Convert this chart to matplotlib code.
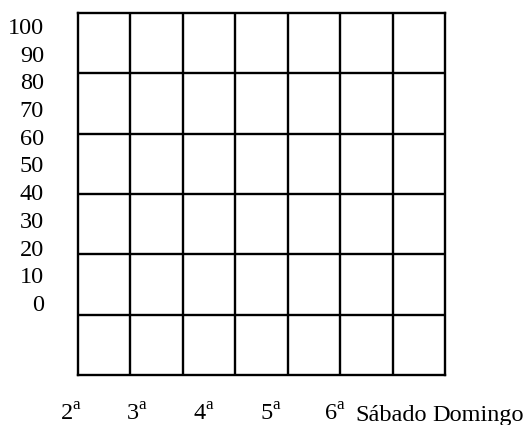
import matplotlib
matplotlib.use("Agg")
import matplotlib.pyplot as plt

y_labels = [100, 90, 80, 70, 60, 50, 40, 30, 20, 10, 0]
day_nums = ["2", "3", "4", "5", "6"]
day_names = ["Sábado", "Domingo"]
n_cols = 7
n_rows = 6

plt.rcParams['font.family'] = ['Liberation Serif', 'DejaVu Serif']
plt.rcParams['mathtext.fontset'] = 'custom'
plt.rcParams['mathtext.rm'] = 'Liberation Serif'
FS = 17.5

W, H = 523, 425
fig = plt.figure(figsize=(W / 100, H / 100), dpi=100)

L, R, T, B = 78, 445, 13, 375
ax = fig.add_axes([L / W, 1 - B / H, (R - L) / W, (B - T) / H])
ax.set_xlim(0, n_cols)
ax.set_ylim(0, n_rows)
for i in range(1, n_cols):
    ax.axvline(i, color='black', lw=1.7)
for j in range(1, n_rows):
    ax.axhline(j, color='black', lw=1.7)
for s in ax.spines.values():
    s.set_linewidth(1.7)
ax.set_xticks([])
ax.set_yticks([])

# y labels axis (not aligned with grid)
axl = fig.add_axes(ax.get_position(), frameon=False)
top_px, bot_px = 26, 303
f0 = (B - bot_px) / (B - T)
f1 = (B - top_px) / (B - T)
span = 100 / (f1 - f0)
axl.set_ylim(-f0 * span, -f0 * span + span)
axl.set_xlim(0, 1)
axl.set_xticks([])
axl.set_yticks(y_labels)
axl.set_yticklabels([str(v) for v in y_labels], fontsize=FS)
axl.tick_params(axis='y', length=0, pad=(L - 44) * 72 / 100)
for s in axl.spines.values():
    s.set_visible(False)
axl.patch.set_alpha(0)

# x labels (common baseline)
base_y = 1 - 421 / H
xc_num = [71, 137, 204, 271, 335]
for d, x in zip(day_nums, xc_num):
    fig.text(x / W, base_y, d + r"$^{\mathrm{a}}$", ha='center', va='baseline', fontsize=FS)
xc_name = [391, 478]
for d, x in zip(day_names, xc_name):
    fig.text(x / W, base_y, d, ha='center', va='baseline', fontsize=FS)

fig.savefig("out.png", dpi=100)
